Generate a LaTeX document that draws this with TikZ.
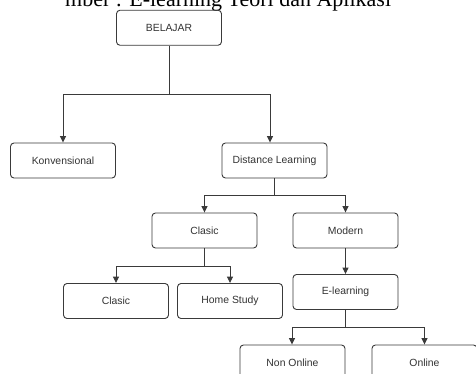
\documentclass[tikz,border=0pt]{standalone}
\usepackage{fontspec}
\setmainfont{Liberation Serif}
\newfontfamily\boxfont{Liberation Sans}
\usetikzlibrary{arrows.meta}
\definecolor{edgegray}{HTML}{3A3A3A}
\definecolor{textgray}{HTML}{333333}
\tikzset{
  box/.style={draw=edgegray, line width=0.9pt, rounded corners=3.5pt,
    minimum width=105pt, minimum height=35pt, inner sep=0pt,
    font=\boxfont\fontsize{10.4}{12}\selectfont, text=textgray},
  link/.style={draw=edgegray, line width=0.9pt},
  arrowlink/.style={link, -{Triangle[length=6.5pt,width=6pt]}},
}
\begin{document}
\begin{tikzpicture}[x=1pt,y=-1pt]
  \useasboundingbox (0,0) rectangle (476,374);
  \fill[white] (0,0) rectangle (476,374);
  \clip (0,0) rectangle (476,374);

  % running caption line at the top edge
  \node[anchor=base west, inner sep=0pt, font=\fontsize{22}{24}\selectfont]
    (caption) at (65,6.5) {mber : E-learning Teori dan Aplikasi};

  % boxes
  \node[box] (bel) at (169,27.75) {BELAJAR};
  \node[box] (kon) at (63,160.5) {Konvensional};
  \node[box] (dl)  at (274.5,160.5) {Distance Learning};
  \node[box] (cla) at (204.5,230.5) {Clasic};
  \node[box] (mod) at (345.5,230.5) {Modern};
  \node[box] (cl2) at (116,301) {Clasic};
  \node[box] (hs)  at (230,301) {Home Study};
  \node[box] (el)  at (345.5,292) {E-learning};
  \node[box] (non) at (292.5,362.5) {Non Online};
  \node[box] (onl) at (424.5,362.5) {Online};

  % junction points
  \coordinate (j1) at (169,94);
  \coordinate (j2) at (274.5,195);
  \coordinate (j3) at (204.5,266);
  \coordinate (j4) at (345.5,327);

  % connectors
  \draw[link] (bel.south) -- (j1);
  \draw[arrowlink] (j1) -| (kon.north);
  \draw[arrowlink] (j1) -| ([xshift=-4.5pt]dl.north);

  \draw[link] (dl.south) -- (j2);
  \draw[arrowlink] (j2) -| (cla.north);
  \draw[arrowlink] (j2) -| (mod.north);

  \draw[link] (cla.south) -- (j3);
  \draw[arrowlink] (j3) -| (cl2.north);
  \draw[arrowlink] (j3) -| (hs.north);

  \draw[arrowlink] (mod.south) -- (el.north);

  \draw[link] (el.south) -- (j4);
  \draw[arrowlink] (j4) -| ([xshift=-0.5pt]non.north);
  \draw[arrowlink] (j4) -| (onl.north);
\end{tikzpicture}
\end{document}
